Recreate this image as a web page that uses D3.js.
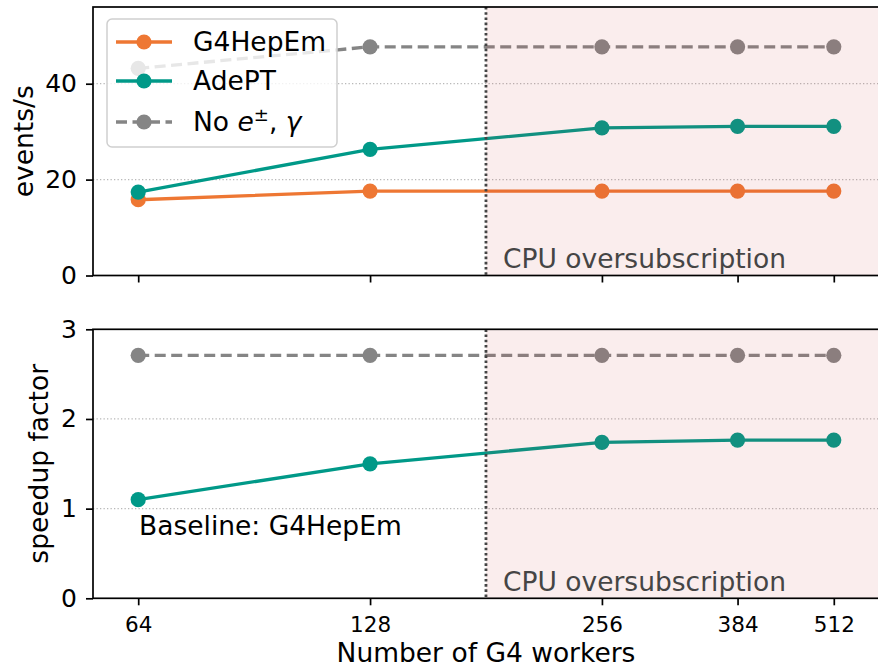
<!DOCTYPE html>
<html><head><meta charset="utf-8">
<script src="https://cdn.jsdelivr.net/npm/d3@7"></script>
<style>body{margin:0;background:#fff} svg{display:block} text{font-family:'DejaVu Sans',sans-serif}</style>
</head><body>
<svg id="chart" width="878" height="669"></svg>
<script>
// ---- data ----
const workers = [64, 128, 256, 384, 512];
const g4hepemRate = [15.8, 17.6, 17.6, 17.6, 17.6];
const adeptRate = [17.4, 26.3, 30.8, 31.1, 31.1];
const noEmRate = [43.2, 47.7, 47.7, 47.7, 47.7];
const adeptSpeedup = [1.10, 1.50, 1.74, 1.765, 1.765];
const noEmSpeedup = [2.71, 2.71, 2.71, 2.71, 2.71];
const oversubThreshold = 181;
const rateTicks = [0, 20, 40];
const speedupTicks = [0, 1, 2, 3];
const seriesNames = ["G4HepEm", "AdePT", "No e±, γ"];

// ---- style ----
const C_ORANGE = "#EE7733", C_TEAL = "#009988", C_GREY = "#858585";
const svg = d3.select("#chart");
const left = 93, right = 879;
const x = d3.scaleLog().base(2).domain([Math.pow(2, 5.805), Math.pow(2, 9.195)]).range([left, right]);
const line = (ys, y) => d3.line().x((d, i) => x(workers[i])).y(d => y(d))(ys);
const FS = 26.5;

const panels = [
  { top: 7, bottom: 275.5, domain: [0, 56], ticks: rateTicks, label: "events/s", labelX: 33, showX: false,
    series: [
      { v: g4hepemRate, c: C_ORANGE, dash: null },
      { v: adeptRate, c: C_TEAL, dash: null },
      { v: noEmRate, c: C_GREY, dash: "11,5.5" }
    ], cpuY: 268 },
  { top: 329.3, bottom: 598.3, domain: [0, 3], ticks: speedupTicks, label: "speedup factor", labelX: 48, showX: true,
    series: [
      { v: adeptSpeedup, c: C_TEAL, dash: null },
      { v: noEmSpeedup, c: C_GREY, dash: "11,5.5" }
    ], cpuY: 591 }
];

panels.forEach((p, pi) => {
  const y = d3.scaleLinear().domain(p.domain).range([p.bottom, p.top]);
  const g = svg.append("g");
  // grid
  g.selectAll(".grid").data(p.ticks.filter(t => t > p.domain[0] && t < p.domain[1])).enter()
    .append("line").attr("x1", left).attr("x2", right)
    .attr("y1", d => y(d)).attr("y2", d => y(d))
    .attr("stroke", "#b8b8b8").attr("stroke-width", 1.3).attr("stroke-dasharray", "1.3,2.2");
  // series
  p.series.forEach(s => {
    g.append("path").attr("d", line(s.v, y)).attr("fill", "none")
      .attr("stroke", s.c).attr("stroke-width", 3.3).attr("stroke-dasharray", s.dash);
    g.selectAll(null).data(s.v).enter().append("circle")
      .attr("cx", (d, i) => x(workers[i])).attr("cy", d => y(d)).attr("r", 7.6).attr("fill", s.c);
  });
  // oversubscription shading (drawn over the lines)
  g.append("rect").attr("x", x(oversubThreshold)).attr("y", p.top)
    .attr("width", right - x(oversubThreshold)).attr("height", p.bottom - p.top)
    .attr("fill", "#c83232").attr("opacity", 0.09);
  g.append("line").attr("x1", x(oversubThreshold)).attr("x2", x(oversubThreshold))
    .attr("y1", p.top).attr("y2", p.bottom)
    .attr("stroke", "#444").attr("stroke-width", 2.8).attr("stroke-dasharray", "2.6,2.6");
  g.append("text").attr("x", x(oversubThreshold) + 17).attr("y", p.cpuY)
    .attr("font-size", FS).attr("fill", "#454545").text("CPU oversubscription");
  // frame
  g.append("rect").attr("x", left).attr("y", p.top).attr("width", right - left).attr("height", p.bottom - p.top)
    .attr("fill", "none").attr("stroke", "#000").attr("stroke-width", 1.7);
  // y axis
  const ya = g.append("g").attr("transform", `translate(${left},0)`)
    .call(d3.axisLeft(y).tickValues(p.ticks).tickFormat(d3.format("d")).tickSize(7).tickPadding(9));
  ya.select(".domain").remove();
  ya.selectAll("line").attr("stroke", "#000").attr("stroke-width", 1.7);
  ya.selectAll("text").attr("font-size", 25).attr("fill", "#000").attr("font-family", "DejaVu Sans");
  // x axis
  const xa = g.append("g").attr("transform", `translate(0,${p.bottom})`)
    .call(d3.axisBottom(x).tickValues(workers).tickFormat(p.showX ? d3.format("d") : () => "").tickSize(7).tickPadding(11));
  xa.select(".domain").remove();
  xa.selectAll("line").attr("stroke", "#000").attr("stroke-width", 1.7);
  xa.selectAll("text").attr("font-size", 21.5).attr("fill", "#000").attr("font-family", "DejaVu Sans");
  // y label
  g.append("text").attr("transform", `translate(${p.labelX},${(p.top + p.bottom) / 2}) rotate(-90)`)
    .attr("text-anchor", "middle").attr("font-size", FS).attr("fill", "#000").text(p.label);

  if (pi === 1) {
    g.append("text").attr("x", 139).attr("y", 535).attr("font-size", FS).attr("fill", "#000").text("Baseline: G4HepEm");
    g.append("text").attr("x", (left + right) / 2).attr("y", 662).attr("text-anchor", "middle")
      .attr("font-size", FS).attr("fill", "#000").text("Number of G4 workers");
  }
});

// ---- legend ----
const lg = svg.append("g");
lg.append("rect").attr("x", 107).attr("y", 19).attr("width", 230).attr("height", 128).attr("rx", 5)
  .attr("fill", "#fff").attr("fill-opacity", 0.8).attr("stroke", "#cfcfcf").attr("stroke-width", 1.5);
const legendItems = [
  { name: seriesNames[0], c: C_ORANGE, dash: null, cy: 42 },
  { name: seriesNames[1], c: C_TEAL, dash: null, cy: 81 },
  { name: seriesNames[2], c: C_GREY, dash: "11,5.5", cy: 122 }
];
legendItems.forEach((it, i) => {
  lg.append("line").attr("x1", 116).attr("x2", 172).attr("y1", it.cy).attr("y2", it.cy)
    .attr("stroke", it.c).attr("stroke-width", 3.3).attr("stroke-dasharray", it.dash);
  lg.append("circle").attr("cx", 144).attr("cy", it.cy).attr("r", 7.6).attr("fill", it.c);
  const t = lg.append("text").attr("x", 193).attr("y", it.cy + 9.4).attr("font-size", FS).attr("fill", "#000");
  if (i < 2) t.text(it.name);
  else {
    t.append("tspan").text("No ");
    t.append("tspan").attr("font-style", "italic").text("e");
    t.append("tspan").attr("font-size", 18).attr("dy", -10).text("±");
    t.append("tspan").attr("dy", 10).text(", ");
    t.append("tspan").attr("font-style", "italic").text("γ");
  }
});
</script>
</body></html>
